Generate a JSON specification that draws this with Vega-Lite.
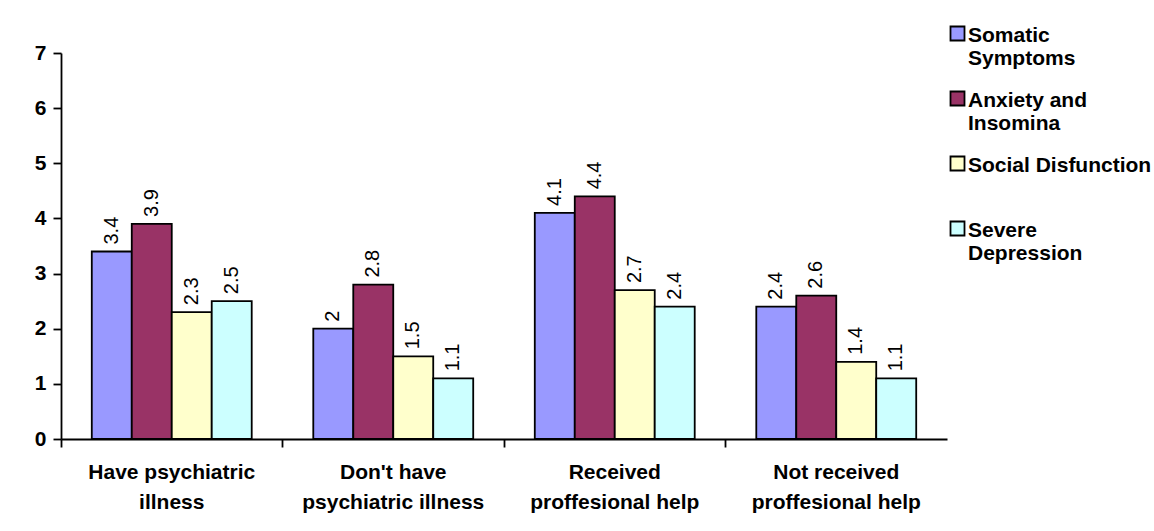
{
  "$schema": "https://vega.github.io/schema/vega-lite/v6.json",
  "autosize": {"type": "none"},
  "padding": {"left": 61, "top": 53, "right": 207, "bottom": 92},
  "width": 886,
  "height": 386,
  "background": "white",
  "config": {
    "view": {"stroke": null},
    "font": "Liberation Sans",
    "axis": {"domainColor": "black", "tickColor": "black", "domainWidth": 1.8, "tickWidth": 1.8, "labelColor": "black", "grid": false, "labelFont": "Liberation Sans"}
  },
  "data": {
    "values": [
      {"group": "Have psychiatric illness", "series": "Somatic Symptoms", "value": 3.4},
      {"group": "Have psychiatric illness", "series": "Anxiety and Insomina", "value": 3.9},
      {"group": "Have psychiatric illness", "series": "Social Disfunction", "value": 2.3},
      {"group": "Have psychiatric illness", "series": "Severe Depression", "value": 2.5},
      {"group": "Don't have psychiatric illness", "series": "Somatic Symptoms", "value": 2},
      {"group": "Don't have psychiatric illness", "series": "Anxiety and Insomina", "value": 2.8},
      {"group": "Don't have psychiatric illness", "series": "Social Disfunction", "value": 1.5},
      {"group": "Don't have psychiatric illness", "series": "Severe Depression", "value": 1.1},
      {"group": "Received proffesional help", "series": "Somatic Symptoms", "value": 4.1},
      {"group": "Received proffesional help", "series": "Anxiety and Insomina", "value": 4.4},
      {"group": "Received proffesional help", "series": "Social Disfunction", "value": 2.7},
      {"group": "Received proffesional help", "series": "Severe Depression", "value": 2.4},
      {"group": "Not received proffesional help", "series": "Somatic Symptoms", "value": 2.4},
      {"group": "Not received proffesional help", "series": "Anxiety and Insomina", "value": 2.6},
      {"group": "Not received proffesional help", "series": "Social Disfunction", "value": 1.4},
      {"group": "Not received proffesional help", "series": "Severe Depression", "value": 1.1}
    ]
  },
  "encoding": {
    "x": {
      "field": "group", "type": "nominal", "sort": null,
      "scale": {"paddingInner": 0, "paddingOuter": 0},
      "axis": {
        "title": null, "bandPosition": 0, "labelAngle": 0,
        "labelFontSize": 21, "labelFontWeight": "bold", "labelLineHeight": 30,
        "labelPadding": 14, "tickSize": 8, "labelBaseline": "top", "labelOverlap": false, "labelLimit": 400,
        "labelExpr": "datum.label == 'Have psychiatric illness' ? ['Have psychiatric', 'illness'] : datum.label == \"Don't have psychiatric illness\" ? [\"Don't have\", 'psychiatric illness'] : datum.label == 'Received proffesional help' ? ['Received', 'proffesional help'] : ['Not received', 'proffesional help']"
      }
    },
    "xOffset": {
      "field": "series", "type": "nominal",
      "sort": ["Somatic Symptoms", "Anxiety and Insomina", "Social Disfunction", "Severe Depression"],
      "scale": {"paddingInner": 0, "paddingOuter": 0.77}
    },
    "y": {
      "field": "value", "type": "quantitative",
      "scale": {"domain": [0, 7], "nice": false},
      "axis": {"title": null, "values": [0, 1, 2, 3, 4, 5, 6, 7], "labelFontSize": 21, "labelFontWeight": "bold", "labelPadding": 7, "tickSize": 8}
    }
  },
  "layer": [
    {
      "mark": {"type": "bar", "stroke": "black", "strokeWidth": 1.8},
      "encoding": {
        "color": {
          "field": "series", "type": "nominal",
          "scale": {"domain": ["Somatic Symptoms", "Anxiety and Insomina", "Social Disfunction", "Severe Depression"], "range": ["#9999FF", "#993366", "#FFFFCC", "#CCFFFF"]},
          "legend": {
            "title": null, "orient": "none", "legendX": 886, "legendY": -30, "padding": 0,
            "symbolType": "square", "symbolSize": 196, "symbolStrokeColor": "black", "symbolStrokeWidth": 1.8, "symbolOpacity": 1,
            "labelFontSize": 21, "labelFontWeight": "bold", "labelColor": "black", "labelLineHeight": 25, "labelOffset": 0,
            "labelBaseline": "top", "labelLimit": 400, "gridAlign": "all", "rowPadding": 18,
            "labelExpr": "datum.label == 'Somatic Symptoms' ? ['Somatic', 'Symptoms'] : datum.label == 'Anxiety and Insomina' ? ['Anxiety and', 'Insomina'] : datum.label == 'Severe Depression' ? ['Severe', 'Depression'] : datum.label",
            "encode": {"labels": {"update": {"dy": {"value": -9}}}}
          }
        }
      }
    },
    {
      "mark": {"type": "text", "angle": 270, "align": "left", "baseline": "middle", "dx": 7, "fontSize": 20, "color": "black"},
      "encoding": {"text": {"field": "value", "type": "nominal"}}
    }
  ]
}
